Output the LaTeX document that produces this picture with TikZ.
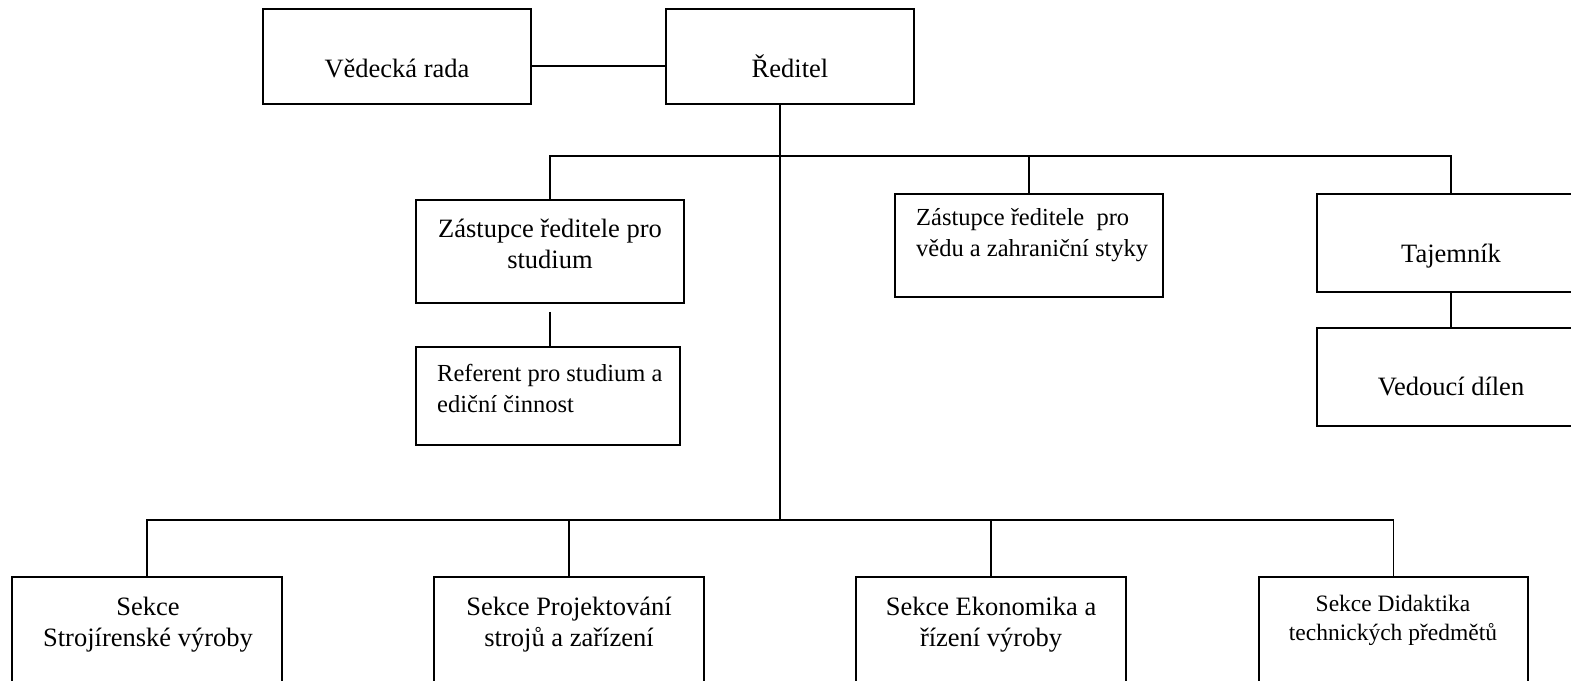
\documentclass[tikz,border=0pt]{standalone}
\usepackage{fontspec}
\setmainfont{Liberation Serif}
\begin{document}
\begin{tikzpicture}[x=1pt,y=-1pt,
  box/.style={draw, line width=1.7pt, rectangle, inner sep=0pt},
  conn/.style={line width=1.7pt},
  txt/.style={font=\fontsize{26.5}{31}\selectfont, inner sep=0pt},
  midtxt/.style={font=\fontsize{24.5}{30.5}\selectfont, inner sep=0pt},
  smalltxt/.style={font=\fontsize{23.5}{29}\selectfont, inner sep=0pt}]
\useasboundingbox (0,0) rectangle (1571,680);
\clip (0,0) rectangle (1571,680);
% boxes
\node[box, minimum width=268pt, minimum height=95pt] (vr) at (397,56.5) {};
\node[box, minimum width=248pt, minimum height=95pt] (red) at (790,56.5) {};
\node[box, minimum width=268pt, minimum height=103pt] (zs) at (550,251.5) {};
\node[box, minimum width=264pt, minimum height=98pt] (ref) at (548,396) {};
\node[box, minimum width=268pt, minimum height=103pt] (zv) at (1029,245.5) {};
\node[box, minimum width=283pt, minimum height=98pt] (taj) at (1458.5,243) {};
\node[box, minimum width=283pt, minimum height=98pt] (ved) at (1458.5,377) {};
\node[box, minimum width=270pt, minimum height=143pt] (s1) at (147,648.5) {};
\node[box, minimum width=270pt, minimum height=143pt] (s2) at (569,648.5) {};
\node[box, minimum width=270pt, minimum height=143pt] (s3) at (991,648.5) {};
\node[box, minimum width=269pt, minimum height=143pt] (s4) at (1393.5,648.5) {};
% texts (multi-line nodes: base anchor = last line's baseline)
\node[txt, anchor=base] (tvr) at (397,77) {Vědecká rada};
\node[txt, anchor=base] (tred) at (790,77) {Ředitel};
\node[txt, anchor=base, align=center] (tzs) at (550,268) {Zástupce ředitele pro\\studium};
\node[midtxt, anchor=base west, align=left] (tref) at (437,412) {Referent pro studium a\\ediční činnost};
\node[midtxt, anchor=base west, align=left] (tzv) at (916,256) {Zástupce ředitele\ \ pro\\vědu a zahraniční styky};
\node[txt, anchor=base] (ttaj) at (1451,262) {Tajemník};
\node[txt, anchor=base] (tved) at (1451,395) {Vedoucí dílen};
\node[txt, anchor=base, align=center] (ts1) at (148,646) {Sekce\\Strojírenské výroby};
\node[txt, anchor=base, align=center] (ts2) at (569,646) {Sekce Projektování\\strojů a zařízení};
\node[txt, anchor=base, align=center] (ts3) at (991,646) {Sekce Ekonomika a\\řízení výroby};
\node[smalltxt, anchor=base, align=center] (ts4) at (1393,640) {Sekce Didaktika\\technických předmětů};
% connectors
\coordinate (tb) at (0,156);
\coordinate (bb) at (0,520);
\coordinate (rx) at (780,0);
\coordinate (tx) at (1451,0);
\draw[conn] (vr.east |- 0,66) -- (red.west |- 0,66);
\draw[conn] (rx |- red.south) -- (rx |- bb);
\draw[conn] (zs.north) -- (zs.north |- tb) -- (tx |- tb) -- (tx |- taj.north);
\draw[conn] (zv.north |- tb) -- (zv.north);
\draw[conn] ([yshift=-8pt]zs.south) -- (zs.south |- ref.north);
\draw[conn] (tx |- taj.south) -- (tx |- ved.north);
\draw[conn] (s1.north) -- (s1.north |- bb) -- (s4.north |- bb) -- (s4.north);
\draw[conn] (s2.north |- bb) -- (s2.north);
\draw[conn] (s3.north |- bb) -- (s3.north);
\end{tikzpicture}
\end{document}
